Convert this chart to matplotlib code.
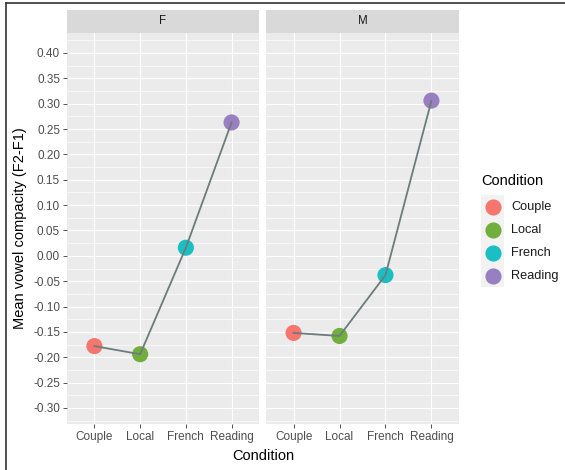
import matplotlib
matplotlib.use("Agg")
import matplotlib.pyplot as plt
from matplotlib.lines import Line2D
import numpy as np

plt.rcParams['font.family'] = ['Liberation Sans', 'DejaVu Sans']

# mean compacity per condition, one list per speaker sex
conditions = ["Couple", "Local", "French", "Reading"]
sexes = ["F", "M"]
mean_f = [-0.178, -0.194, 0.016, 0.263]
mean_m = [-0.152, -0.158, -0.038, 0.306]
cond_colors = ["#F4766E", "#72AE3E", "#1BBEC2", "#9880C0"]
y_ticks = [-0.30, -0.25, -0.20, -0.15, -0.10, -0.05, 0.00, 0.05, 0.10,
           0.15, 0.20, 0.25, 0.30, 0.35, 0.40]

W, H = 565, 470
fig = plt.figure(figsize=(W / 100, H / 100), dpi=100)

def px_box(x0, y0, x1, y1):
    # pixel box (top-left origin) -> figure fraction rect
    return [x0 / W, 1 - y1 / H, (x1 - x0) / W, (y1 - y0) / H]

panels = [(67, 259), (266, 459)]
top, bottom = 33, 424
tick_col = "#4D4D4D"
xs = np.arange(1, len(conditions) + 1)

for k, (sex, vals) in enumerate(zip(sexes, [mean_f, mean_m])):
    x0, x1 = panels[k]
    ax = fig.add_axes(px_box(x0, top, x1, bottom))
    ax.set_facecolor("#EBEBEB")
    for s in ax.spines.values():
        s.set_visible(False)
    ax.set_xlim(0.4, 4.6)
    ax.set_ylim(-0.3316, 0.4394)
    ax.set_yticks(y_ticks)
    ax.set_yticks(np.arange(-0.325, 0.44, 0.05), minor=True)
    ax.set_xticks(xs)
    ax.set_xticklabels(conditions)
    ax.grid(which="major", color="white", lw=0.8)
    ax.grid(which="minor", axis="y", color="white", lw=0.45)
    ax.set_axisbelow(True)
    ax.tick_params(axis="both", which="major", length=3, width=0.6,
                   color="#333333", labelsize=8.5, labelcolor=tick_col, pad=2)
    ax.tick_params(which="minor", length=0)
    if k == 0:
        ax.set_yticklabels([f"{v:.2f}" for v in y_ticks])
    else:
        ax.tick_params(axis="y", left=False, labelleft=False)

    ax.scatter(xs, vals, s=135, c=cond_colors, zorder=3, linewidths=0)
    ax.plot(xs, vals, color="#6E7B7B", lw=1.3, zorder=4)

    # facet strip
    sax = fig.add_axes(px_box(x0, 10, x1, top))
    sax.set_facecolor("#D9D9D9")
    sax.set_xticks([])
    sax.set_yticks([])
    for s in sax.spines.values():
        s.set_visible(False)
    sax.text(0.5, 0.5, sex, ha="center", va="center", fontsize=8.3,
             color="#1A1A1A", transform=sax.transAxes)

fig.text(20 / W, 1 - 228 / H, "Mean vowel compacity (F2-F1)", rotation=90,
         ha="center", va="center", fontsize=10.5)
fig.text(263 / W, 1 - 456 / H, "Condition", ha="center", va="center",
         fontsize=10.5)

# legend
fig.text(481 / W, 1 - 181 / H, "Condition", ha="left", va="center",
         fontsize=10.5)
lax = fig.add_axes(px_box(481, 195, 504, 287))
lax.set_facecolor("#F2F2F2")
lax.set_xlim(0, 1)
lax.set_ylim(len(conditions), 0)
lax.set_xticks([])
lax.set_yticks([])
for s in lax.spines.values():
    s.set_visible(False)
for i, (name, col) in enumerate(zip(conditions, cond_colors)):
    lax.scatter([0.5], [i + 0.5], s=135, color=col, linewidths=0)
    lax.text(1.3, i + 0.5, name, ha="left", va="center", fontsize=9.2,
             color="#1A1A1A", clip_on=False)

# frame lines along top and left edge
fig.add_artist(Line2D([6 / W, 1], [1 - 3 / H, 1 - 3 / H], color="#333333",
                      lw=1.2, transform=fig.transFigure))
fig.add_artist(Line2D([6 / W, 6 / W], [0, 1 - 3 / H], color="#333333",
                      lw=1.2, transform=fig.transFigure))

fig.savefig("out.png", dpi=100)
